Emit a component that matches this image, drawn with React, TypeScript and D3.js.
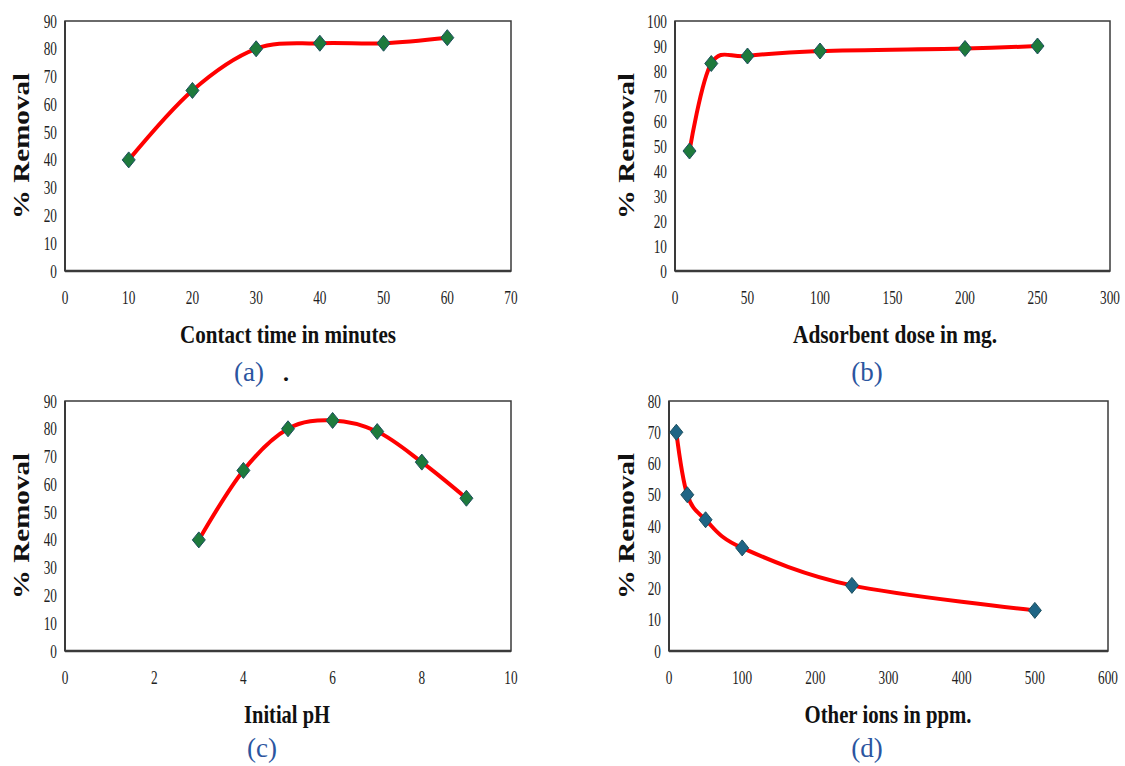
import * as d3 from "d3";

// panel (a) contact time
const timeX = [10, 20, 30, 40, 50, 60];
const timeY = [40, 65, 80, 82, 82, 84];
// panel (b) adsorbent dose
const doseX = [10, 25, 50, 100, 200, 250];
const doseY = [48, 83, 86, 88, 89, 90];
// panel (c) initial pH
const phX = [3, 4, 5, 6, 7, 8, 9];
const phY = [40, 65, 80, 83, 79, 68, 55];
// panel (d) other ions
const ionsX = [10, 25, 50, 100, 250, 500];
const ionsY = [70, 50, 42, 33, 21, 13];

const xTicksA = [0, 10, 20, 30, 40, 50, 60, 70];
const xTicksB = [0, 50, 100, 150, 200, 250, 300];
const xTicksC = [0, 2, 4, 6, 8, 10];
const xTicksD = [0, 100, 200, 300, 400, 500, 600];
const yTicks90 = [0, 10, 20, 30, 40, 50, 60, 70, 80, 90];
const yTicks100 = [0, 10, 20, 30, 40, 50, 60, 70, 80, 90, 100];
const yTicks80 = [0, 10, 20, 30, 40, 50, 60, 70, 80];

const SERIF = "'Liberation Serif', 'Times New Roman', serif";

type PanelProps = {
  box: { l: number; r: number; t: number; b: number };
  xs: number[];
  ys: number[];
  xTicks: number[];
  yTicks: number[];
  xlabel: string;
  xlabelW: number;
  xlabelX: number;
  tag: string;
  tagX: number;
  tagY: number;
  ylabelX: number;
  marker: string;
  dot?: boolean;
};

function Panel(p: PanelProps) {
  const { box } = p;
  const x = d3.scaleLinear().domain([p.xTicks[0], p.xTicks[p.xTicks.length - 1]]).range([box.l, box.r]);
  const y = d3.scaleLinear().domain([p.yTicks[0], p.yTicks[p.yTicks.length - 1]]).range([box.b, box.t]);
  const pts: [number, number][] = p.xs.map((v, i) => [x(v), y(p.ys[i])]);
  const line = d3.line().curve(d3.curveCardinal.tension(0))(pts) || "";
  const midY = (box.t + box.b) / 2;
  return (
    <g>
      <rect x={box.l} y={box.t} width={box.r - box.l} height={box.b - box.t} fill="#fff" stroke="#3a3a3a" strokeWidth={1.5} />
      <line x1={box.l} x2={box.r} y1={box.b} y2={box.b} stroke="#3a3a3a" strokeWidth={2.5} />
      <line x1={box.l} x2={box.l} y1={box.t} y2={box.b} stroke="#3a3a3a" strokeWidth={2} />
      {p.yTicks.map((t) => (
        <text key={"y" + t} transform={`translate(${box.l - 8},${y(t) + 6.5}) scale(0.7,1)`}
          textAnchor="end" fontFamily={SERIF} fontSize={19} fill="#222">{t}</text>
      ))}
      {p.xTicks.map((t) => (
        <text key={"x" + t} transform={`translate(${x(t)},${box.b + 33}) scale(0.7,1)`}
          textAnchor="middle" fontFamily={SERIF} fontSize={19} fill="#222">{t}</text>
      ))}
      <path d={line} fill="none" stroke="#ff0000" strokeWidth={4} strokeLinejoin="round" />
      {pts.map(([cx, cy], i) => (
        <path key={i} d={`M${cx},${cy - 8}L${cx + 6.5},${cy}L${cx},${cy + 8}L${cx - 6.5},${cy}Z`}
          fill={p.marker} stroke="#1d4f5e" strokeWidth={1} />
      ))}
      <text transform={`translate(${p.ylabelX},${midY}) rotate(-90)`} textAnchor="middle"
        fontFamily={SERIF} fontWeight="bold" fontSize={23} fill="#111"
        textLength={146} lengthAdjust="spacingAndGlyphs">% Removal</text>
      <text x={p.xlabelX} y={box.b + 72} textAnchor="middle" fontFamily={SERIF} fontWeight="bold"
        fontSize={26} fill="#111" textLength={p.xlabelW} lengthAdjust="spacingAndGlyphs">{p.xlabel}</text>
      <text x={p.tagX} y={p.tagY} textAnchor="middle" fontFamily={SERIF} fontSize={27} fill="#2b55a0">{p.tag}</text>
      {p.dot && <text x={p.tagX + 37} y={p.tagY} textAnchor="middle" fontFamily={SERIF} fontSize={24} fontWeight="bold" fill="#111">.</text>}
    </g>
  );
}

export default function App() {
  return (
    <svg width={1125} height={766} style={{ position: "absolute", left: 0, top: 0, background: "#fff" }}>
      <Panel box={{ l: 65, r: 511, t: 21, b: 271 }} xs={timeX} ys={timeY} xTicks={xTicksA} yTicks={yTicks90}
        xlabel="Contact time in minutes" xlabelW={216} xlabelX={288} tag="(a)" tagX={249} tagY={381}
        ylabelX={29} marker="#1e7a3c" dot />
      <Panel box={{ l: 675, r: 1110, t: 21, b: 271 }} xs={doseX} ys={doseY} xTicks={xTicksB} yTicks={yTicks100}
        xlabel="Adsorbent dose in mg." xlabelW={204} xlabelX={895} tag="(b)" tagX={867} tagY={381}
        ylabelX={634} marker="#1e7a3c" />
      <Panel box={{ l: 65, r: 511, t: 401, b: 651 }} xs={phX} ys={phY} xTicks={xTicksC} yTicks={yTicks90}
        xlabel="Initial pH" xlabelW={86} xlabelX={287} tag="(c)" tagX={262} tagY={757}
        ylabelX={29} marker="#1e7a3c" />
      <Panel box={{ l: 669, r: 1108, t: 401, b: 651 }} xs={ionsX} ys={ionsY} xTicks={xTicksD} yTicks={yTicks80}
        xlabel="Other ions in ppm." xlabelW={167} xlabelX={888} tag="(d)" tagX={867} tagY={757}
        ylabelX={634} marker="#1f6585" />
    </svg>
  );
}
